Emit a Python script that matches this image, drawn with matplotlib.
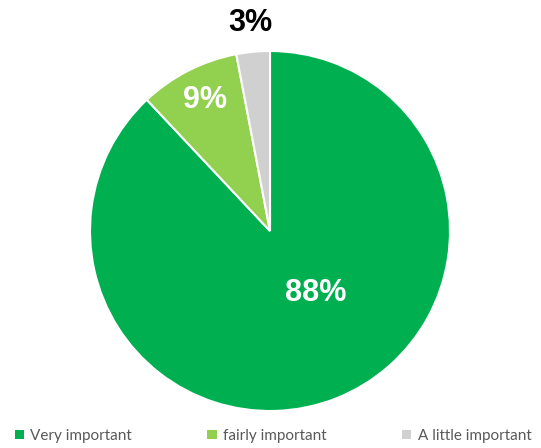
import matplotlib
matplotlib.use("Agg")
import matplotlib.pyplot as plt
from matplotlib.patches import Patch

categories = ["Very important", "fairly important", "A little important"]
values = [88, 9, 3]
colors = ["#00B050", "#92D050", "#D0D0D0"]
label_colors = ["white", "white", "black"]

W, H = 541, 448
fig = plt.figure(figsize=(W / 100, H / 100), dpi=100)
cx, cy, r = 270, 231, 180
ax = fig.add_axes([(cx - r) / W, (H - cy - r) / H, 2 * r / W, 2 * r / H])

wedges, _ = ax.pie(values, colors=colors, startangle=90, counterclock=False,
                   radius=1, wedgeprops=dict(edgecolor="white", linewidth=1.5))
ax.set_xlim(-1, 1)
ax.set_ylim(-1, 1)
ax.set_aspect("equal")
ax.axis("off")

label_pos = [(0.256, -0.344), (-0.36, 0.73), (-0.11, 1.155)]
for v, (x, y), c in zip(values, label_pos, label_colors):
    ax.text(x, y, f"{v}%", ha="center", va="center", color=c,
            fontsize=22, fontweight="bold", family="Liberation Sans", clip_on=False)

handles = [Patch(facecolor=c, edgecolor="none") for c in colors]
leg = fig.legend(handles, categories, loc="center left", ncol=3,
                 bbox_to_anchor=(0.027, 0.027, 0.955, 0.0), mode="expand",
                 frameon=False, handlelength=0.6, handleheight=0.6,
                 handletextpad=0.4, borderaxespad=0.0, borderpad=0.0,
                 prop=dict(family="Lato", size=11))
for t in leg.get_texts():
    t.set_color("#595959")

fig.savefig("out.png", dpi=100)
